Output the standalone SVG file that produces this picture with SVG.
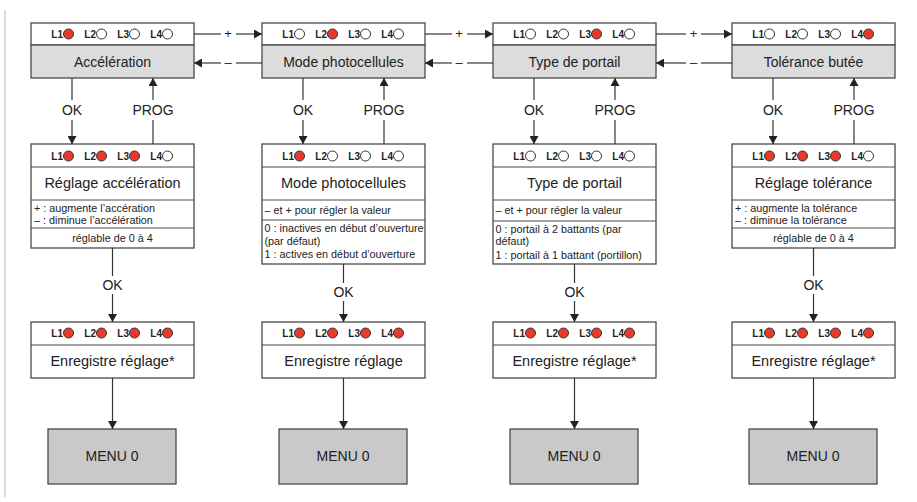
<svg xmlns="http://www.w3.org/2000/svg" width="917" height="502" viewBox="0 0 917 502">
<style>
.box{fill:#fff;stroke:#4a4a4a;stroke-width:1.3}
.gray{fill:#dcdcdc;stroke:#4a4a4a;stroke-width:1.3}
.menu{fill:#c9c9c9;stroke:#4a4a4a;stroke-width:1.3}
.div{stroke:#4a4a4a;stroke-width:1.2;fill:none}
.ln{stroke:#333;stroke-width:1.2;fill:none}
.arr{stroke:#333;stroke-width:1.2;fill:none;marker-end:url(#ah)}
.t{font-family:"Liberation Sans",Arial,sans-serif;fill:#222}
.ti{font-size:14px;text-anchor:middle}
.tm{font-size:14.5px;text-anchor:middle}
.lb{font-size:14px;text-anchor:middle}
.pm{font-size:13px;text-anchor:middle}
.nt{font-size:10.8px}
.ntc{font-size:10.8px;text-anchor:middle}
.led{font-family:"Liberation Sans",Arial,sans-serif;font-size:10px;font-weight:bold;fill:#222;text-anchor:end}
.on{fill:#e8392b;stroke:#333;stroke-width:1}
.off{fill:#fff;stroke:#333;stroke-width:1}
</style>
<defs>
<marker id="ah" viewBox="0 0 8 9" refX="8" refY="4.5" markerWidth="8" markerHeight="9" markerUnits="userSpaceOnUse" orient="auto">
<path d="M0,0 L8,4.5 L0,9 z" fill="#222"/>
</marker>
</defs>
<line x1="5" y1="10" x2="5" y2="497" stroke="#c4c4c4" stroke-width="1.2"/>

<!-- Column 1 -->
<g id="top1">
<rect class="box" x="31" y="23" width="163" height="22"/>
<rect class="gray" x="31" y="45" width="163" height="33"/>
<text class="led" x="63" y="38">L1</text><circle class="on" cx="68.5" cy="34" r="5"/>
<text class="led" x="96" y="38">L2</text><circle class="off" cx="101.5" cy="34" r="5"/>
<text class="led" x="129" y="38">L3</text><circle class="off" cx="134.5" cy="34" r="5"/>
<text class="led" x="162" y="38">L4</text><circle class="off" cx="167.5" cy="34" r="5"/>
<text class="t ti" x="112.5" y="66.5">Accélération</text>
</g>
<g id="mid1">
<rect class="box" x="31" y="144" width="163" height="104"/>
<line class="div" x1="31" y1="167" x2="194" y2="167"/>
<line class="div" x1="31" y1="200" x2="194" y2="200"/>
<line class="div" x1="31" y1="228" x2="194" y2="228"/>
<text class="led" x="63" y="160">L1</text><circle class="on" cx="68.5" cy="156" r="5"/>
<text class="led" x="96" y="160">L2</text><circle class="on" cx="101.5" cy="156" r="5"/>
<text class="led" x="129" y="160">L3</text><circle class="on" cx="134.5" cy="156" r="5"/>
<text class="led" x="162" y="160">L4</text><circle class="off" cx="167.5" cy="156" r="5"/>
<text class="t tm" x="112.5" y="188">Réglage accélération</text>
<text class="t nt" x="34" y="211.5">+ : augmente l’accération</text>
<text class="t nt" x="34" y="224">– : diminue l’accélération</text>
<text class="t ntc" x="112.5" y="242">réglable de 0 à 4</text>
</g>
<g id="save1">
<rect class="box" x="31" y="322" width="163" height="56"/>
<line class="div" x1="31" y1="345" x2="194" y2="345"/>
<text class="led" x="63" y="337">L1</text><circle class="on" cx="68.5" cy="333" r="5"/>
<text class="led" x="96" y="337">L2</text><circle class="on" cx="101.5" cy="333" r="5"/>
<text class="led" x="129" y="337">L3</text><circle class="on" cx="134.5" cy="333" r="5"/>
<text class="led" x="162" y="337">L4</text><circle class="on" cx="167.5" cy="333" r="5"/>
<text class="t tm" x="112.5" y="366">Enregistre réglage*</text>
</g>
<g id="menu1">
<rect class="menu" x="48" y="429" width="128" height="55"/>
<text class="t lb" x="112" y="461">MENU 0</text>
</g>

<!-- Column 2 -->
<g id="top2">
<rect class="box" x="262" y="23" width="163" height="22"/>
<rect class="gray" x="262" y="45" width="163" height="33"/>
<text class="led" x="294" y="38">L1</text><circle class="off" cx="299.5" cy="34" r="5"/>
<text class="led" x="327" y="38">L2</text><circle class="on" cx="332.5" cy="34" r="5"/>
<text class="led" x="360" y="38">L3</text><circle class="off" cx="365.5" cy="34" r="5"/>
<text class="led" x="393" y="38">L4</text><circle class="off" cx="398.5" cy="34" r="5"/>
<text class="t ti" x="343.5" y="66.5">Mode photocellules</text>
</g>
<g id="mid2">
<rect class="box" x="262" y="144" width="163" height="120"/>
<line class="div" x1="262" y1="167" x2="425" y2="167"/>
<line class="div" x1="262" y1="200" x2="425" y2="200"/>
<line class="div" x1="262" y1="220" x2="425" y2="220"/>
<text class="led" x="294" y="160">L1</text><circle class="on" cx="299.5" cy="156" r="5"/>
<text class="led" x="327" y="160">L2</text><circle class="off" cx="332.5" cy="156" r="5"/>
<text class="led" x="360" y="160">L3</text><circle class="off" cx="365.5" cy="156" r="5"/>
<text class="led" x="393" y="160">L4</text><circle class="off" cx="398.5" cy="156" r="5"/>
<text class="t tm" x="343.5" y="188">Mode photocellules</text>
<text class="t nt" x="264.5" y="214">– et + pour régler la valeur</text>
<text class="t nt" x="264.5" y="232">0 : inactives en début d’ouverture</text>
<text class="t nt" x="264.5" y="244.5">(par défaut)</text>
<text class="t nt" x="264.5" y="258">1 : actives en début d’ouverture</text>
</g>
<g id="save2">
<rect class="box" x="262" y="322" width="163" height="56"/>
<line class="div" x1="262" y1="345" x2="425" y2="345"/>
<text class="led" x="294" y="337">L1</text><circle class="on" cx="299.5" cy="333" r="5"/>
<text class="led" x="327" y="337">L2</text><circle class="on" cx="332.5" cy="333" r="5"/>
<text class="led" x="360" y="337">L3</text><circle class="on" cx="365.5" cy="333" r="5"/>
<text class="led" x="393" y="337">L4</text><circle class="on" cx="398.5" cy="333" r="5"/>
<text class="t tm" x="343.5" y="366">Enregistre réglage</text>
</g>
<g id="menu2">
<rect class="menu" x="279" y="429" width="128" height="55"/>
<text class="t lb" x="343" y="461">MENU 0</text>
</g>

<!-- Column 3 -->
<g id="top3">
<rect class="box" x="493" y="23" width="163" height="22"/>
<rect class="gray" x="493" y="45" width="163" height="33"/>
<text class="led" x="525" y="38">L1</text><circle class="off" cx="530.5" cy="34" r="5"/>
<text class="led" x="558" y="38">L2</text><circle class="off" cx="563.5" cy="34" r="5"/>
<text class="led" x="591" y="38">L3</text><circle class="on" cx="596.5" cy="34" r="5"/>
<text class="led" x="624" y="38">L4</text><circle class="off" cx="629.5" cy="34" r="5"/>
<text class="t ti" x="574.5" y="66.5">Type de portail</text>
</g>
<g id="mid3">
<rect class="box" x="493" y="144" width="163" height="120"/>
<line class="div" x1="493" y1="167" x2="656" y2="167"/>
<line class="div" x1="493" y1="200" x2="656" y2="200"/>
<line class="div" x1="493" y1="221" x2="656" y2="221"/>
<text class="led" x="525" y="160">L1</text><circle class="off" cx="530.5" cy="156" r="5"/>
<text class="led" x="558" y="160">L2</text><circle class="off" cx="563.5" cy="156" r="5"/>
<text class="led" x="591" y="160">L3</text><circle class="off" cx="596.5" cy="156" r="5"/>
<text class="led" x="624" y="160">L4</text><circle class="off" cx="629.5" cy="156" r="5"/>
<text class="t tm" x="574.5" y="188">Type de portail</text>
<text class="t nt" x="495.5" y="214">– et + pour régler la valeur</text>
<text class="t nt" x="495.5" y="232.5">0 : portail à 2 battants (par</text>
<text class="t nt" x="495.5" y="245">défaut)</text>
<text class="t nt" x="495.5" y="258.5">1 : portail à 1 battant (portillon)</text>
</g>
<g id="save3">
<rect class="box" x="493" y="322" width="163" height="56"/>
<line class="div" x1="493" y1="345" x2="656" y2="345"/>
<text class="led" x="525" y="337">L1</text><circle class="on" cx="530.5" cy="333" r="5"/>
<text class="led" x="558" y="337">L2</text><circle class="on" cx="563.5" cy="333" r="5"/>
<text class="led" x="591" y="337">L3</text><circle class="on" cx="596.5" cy="333" r="5"/>
<text class="led" x="624" y="337">L4</text><circle class="on" cx="629.5" cy="333" r="5"/>
<text class="t tm" x="574.5" y="366">Enregistre réglage*</text>
</g>
<g id="menu3">
<rect class="menu" x="510" y="429" width="128" height="55"/>
<text class="t lb" x="574" y="461">MENU 0</text>
</g>

<!-- Column 4 -->
<g id="top4">
<rect class="box" x="732" y="23" width="163" height="22"/>
<rect class="gray" x="732" y="45" width="163" height="33"/>
<text class="led" x="764" y="38">L1</text><circle class="off" cx="769.5" cy="34" r="5"/>
<text class="led" x="797" y="38">L2</text><circle class="off" cx="802.5" cy="34" r="5"/>
<text class="led" x="830" y="38">L3</text><circle class="off" cx="835.5" cy="34" r="5"/>
<text class="led" x="863" y="38">L4</text><circle class="on" cx="868.5" cy="34" r="5"/>
<text class="t ti" x="813.5" y="66.5">Tolérance butée</text>
</g>
<g id="mid4">
<rect class="box" x="732" y="144" width="163" height="104"/>
<line class="div" x1="732" y1="167" x2="895" y2="167"/>
<line class="div" x1="732" y1="200" x2="895" y2="200"/>
<line class="div" x1="732" y1="228" x2="895" y2="228"/>
<text class="led" x="764" y="160">L1</text><circle class="on" cx="769.5" cy="156" r="5"/>
<text class="led" x="797" y="160">L2</text><circle class="on" cx="802.5" cy="156" r="5"/>
<text class="led" x="830" y="160">L3</text><circle class="on" cx="835.5" cy="156" r="5"/>
<text class="led" x="863" y="160">L4</text><circle class="off" cx="868.5" cy="156" r="5"/>
<text class="t tm" x="813.5" y="188">Réglage tolérance</text>
<text class="t nt" x="735" y="211.5">+ : augmente la tolérance</text>
<text class="t nt" x="735" y="224">– : diminue la tolérance</text>
<text class="t ntc" x="813.5" y="242">réglable de 0 à 4</text>
</g>
<g id="save4">
<rect class="box" x="732" y="322" width="163" height="56"/>
<line class="div" x1="732" y1="345" x2="895" y2="345"/>
<text class="led" x="764" y="337">L1</text><circle class="on" cx="769.5" cy="333" r="5"/>
<text class="led" x="797" y="337">L2</text><circle class="on" cx="802.5" cy="333" r="5"/>
<text class="led" x="830" y="337">L3</text><circle class="on" cx="835.5" cy="333" r="5"/>
<text class="led" x="863" y="337">L4</text><circle class="on" cx="868.5" cy="333" r="5"/>
<text class="t tm" x="813.5" y="366">Enregistre réglage*</text>
</g>
<g id="menu4">
<rect class="menu" x="749" y="429" width="128" height="55"/>
<text class="t lb" x="813" y="461">MENU 0</text>
</g>

<!-- Connectors -->
<g id="connectors">
<line class="ln" x1="194" y1="34" x2="221" y2="34"/><line class="arr" x1="236" y1="34" x2="262" y2="34"/>
<line class="ln" x1="262" y1="63" x2="236" y2="63"/><line class="arr" x1="221" y1="63" x2="194" y2="63"/>
<line class="ln" x1="425" y1="34" x2="452" y2="34"/><line class="arr" x1="467" y1="34" x2="493" y2="34"/>
<line class="ln" x1="493" y1="63" x2="467" y2="63"/><line class="arr" x1="452" y1="63" x2="425" y2="63"/>
<line class="ln" x1="656" y1="34" x2="686" y2="34"/><line class="arr" x1="701" y1="34" x2="732" y2="34"/>
<line class="ln" x1="732" y1="63" x2="701" y2="63"/><line class="arr" x1="686" y1="63" x2="656" y2="63"/>
<text class="t pm" x="228" y="38">+</text><text class="t pm" x="228" y="67">–</text>
<text class="t pm" x="459" y="38">+</text><text class="t pm" x="459" y="67">–</text>
<text class="t pm" x="693.5" y="38">+</text><text class="t pm" x="693.5" y="67">–</text>

<line class="ln" x1="72" y1="78" x2="72" y2="100"/><line class="arr" x1="72" y1="120" x2="72" y2="144"/>
<line class="ln" x1="153" y1="144" x2="153" y2="120"/><line class="arr" x1="153" y1="100" x2="153" y2="78"/>
<text class="t lb" x="72" y="115">OK</text><text class="t lb" x="153" y="115">PROG</text>

<line class="ln" x1="303" y1="78" x2="303" y2="100"/><line class="arr" x1="303" y1="120" x2="303" y2="144"/>
<line class="ln" x1="384" y1="144" x2="384" y2="120"/><line class="arr" x1="384" y1="100" x2="384" y2="78"/>
<text class="t lb" x="303" y="115">OK</text><text class="t lb" x="384" y="115">PROG</text>

<line class="ln" x1="534" y1="78" x2="534" y2="100"/><line class="arr" x1="534" y1="120" x2="534" y2="144"/>
<line class="ln" x1="615" y1="144" x2="615" y2="120"/><line class="arr" x1="615" y1="100" x2="615" y2="78"/>
<text class="t lb" x="534" y="115">OK</text><text class="t lb" x="615" y="115">PROG</text>

<line class="ln" x1="773" y1="78" x2="773" y2="100"/><line class="arr" x1="773" y1="120" x2="773" y2="144"/>
<line class="ln" x1="854" y1="144" x2="854" y2="120"/><line class="arr" x1="854" y1="100" x2="854" y2="78"/>
<text class="t lb" x="773" y="115">OK</text><text class="t lb" x="854" y="115">PROG</text>

<line class="ln" x1="112.5" y1="248" x2="112.5" y2="276"/><line class="arr" x1="112.5" y1="294" x2="112.5" y2="322"/>
<text class="t lb" x="112.5" y="290">OK</text>
<line class="ln" x1="343.5" y1="264" x2="343.5" y2="283"/><line class="arr" x1="343.5" y1="301" x2="343.5" y2="322"/>
<text class="t lb" x="343.5" y="297">OK</text>
<line class="ln" x1="574.5" y1="264" x2="574.5" y2="283"/><line class="arr" x1="574.5" y1="301" x2="574.5" y2="322"/>
<text class="t lb" x="574.5" y="297">OK</text>
<line class="ln" x1="813.5" y1="248" x2="813.5" y2="276"/><line class="arr" x1="813.5" y1="294" x2="813.5" y2="322"/>
<text class="t lb" x="813.5" y="290">OK</text>

<line class="arr" x1="112.5" y1="378" x2="112.5" y2="429"/>
<line class="arr" x1="343.5" y1="378" x2="343.5" y2="429"/>
<line class="arr" x1="574.5" y1="378" x2="574.5" y2="429"/>
<line class="arr" x1="813.5" y1="378" x2="813.5" y2="429"/>
</g>
</svg>
